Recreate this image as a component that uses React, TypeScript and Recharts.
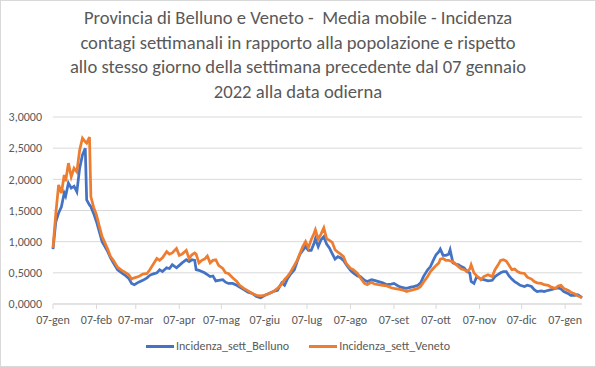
import { LineChart, Line, XAxis, YAxis, CartesianGrid } from 'recharts';

// giorni dal 07 gennaio 2022
const days = [
  0, 2, 4, 6, 8, 9, 11, 13, 15, 17, 19, 21, 23, 24, 26, 27, 29, 31, 33, 35,
  37, 39, 41, 43, 46, 49, 52, 54, 56, 58, 61, 64, 67, 69, 71, 74, 76, 78, 81, 83,
  85, 88, 90, 92, 95, 97, 99, 101, 102, 104, 106, 108, 110, 112, 114, 116, 118, 121, 123, 125,
  128, 131, 133, 136, 139, 142, 145, 148, 151, 154, 157, 160, 163, 165, 167, 169, 172, 174, 176, 178,
  180, 182, 184, 186, 187, 189, 191, 193, 195, 197, 199, 201, 203, 205, 207, 209, 212, 214, 217, 219,
  222, 224, 227, 229, 232, 235, 238, 241, 243, 246, 248, 250, 252, 255, 257, 260, 262, 264, 267, 269,
  271, 273, 275, 276, 278, 280, 282, 283, 285, 287, 289, 291, 293, 295, 297, 298, 300, 302, 305, 307,
  310, 313, 315, 317, 319, 321, 323, 325, 327, 329, 331, 333, 336, 338, 341, 343, 345, 348, 350, 353,
  355, 358, 360, 362, 364, 367, 369, 372, 374, 376, 377,
];

const belluno = [
  0.88, 1.32, 1.46, 1.56, 1.78, 1.73, 1.94, 1.86, 1.89, 1.8, 2.18, 2.39, 2.5, 1.67, 1.59, 1.56, 1.45, 1.32, 1.16, 1.0,
  0.92, 0.84, 0.74, 0.66, 0.55, 0.5, 0.45, 0.41, 0.33, 0.31, 0.35, 0.38, 0.42, 0.46, 0.48, 0.5, 0.55, 0.52, 0.58, 0.57,
  0.63, 0.58, 0.62, 0.66, 0.71, 0.68, 0.71, 0.7, 0.55, 0.54, 0.52, 0.5, 0.47, 0.44, 0.45, 0.37, 0.38, 0.39, 0.35, 0.33,
  0.33, 0.3, 0.27, 0.23, 0.19, 0.17, 0.12, 0.1, 0.14, 0.17, 0.2, 0.22, 0.34, 0.3, 0.4, 0.47, 0.55, 0.68, 0.8, 0.86,
  0.92, 0.86, 0.86, 0.97, 1.05, 0.92, 1.03, 1.08, 0.96, 0.9, 0.81, 0.72, 0.76, 0.74, 0.7, 0.63, 0.54, 0.5, 0.45, 0.44,
  0.38, 0.36, 0.39, 0.38, 0.36, 0.34, 0.31, 0.32, 0.33, 0.29, 0.27, 0.26, 0.25, 0.27, 0.28, 0.3, 0.34, 0.44, 0.55, 0.6,
  0.7, 0.79, 0.84, 0.88, 0.78, 0.78, 0.8, 0.87, 0.66, 0.64, 0.63, 0.6, 0.58, 0.52, 0.5, 0.36, 0.33, 0.44, 0.4, 0.39,
  0.37, 0.38, 0.44, 0.47, 0.5, 0.52, 0.52, 0.45, 0.4, 0.36, 0.33, 0.3, 0.28, 0.3, 0.28, 0.23, 0.2, 0.21, 0.2, 0.22,
  0.23, 0.25, 0.26, 0.24, 0.2, 0.17, 0.14, 0.14, 0.15, 0.12, 0.1,
];

const veneto = [
  0.9, 1.45, 1.91, 1.78, 2.07, 1.97, 2.26, 2.04, 2.18, 2.12, 2.47, 2.66, 2.6, 2.58, 2.68, 1.72, 1.55, 1.43, 1.25, 1.08,
  0.98, 0.88, 0.76, 0.7, 0.59, 0.54, 0.5, 0.47, 0.4, 0.42, 0.44, 0.48, 0.49, 0.55, 0.62, 0.73, 0.7, 0.74, 0.84, 0.8,
  0.82, 0.89, 0.78, 0.8, 0.86, 0.73, 0.79, 0.82, 0.8, 0.66, 0.7, 0.72, 0.77, 0.66, 0.7, 0.71, 0.62, 0.57, 0.5, 0.49,
  0.42, 0.36, 0.3, 0.25, 0.21, 0.17, 0.14, 0.13, 0.14, 0.17, 0.2, 0.25, 0.32, 0.39, 0.44, 0.5, 0.62, 0.7, 0.81, 0.92,
  1.0, 0.9, 1.03, 1.13, 1.19, 1.04, 1.12, 1.22, 1.05, 1.02, 0.99, 0.87, 0.83, 0.8, 0.76, 0.65, 0.57, 0.55, 0.49, 0.42,
  0.33, 0.31, 0.35, 0.32, 0.31, 0.3, 0.29, 0.26, 0.25, 0.24, 0.23, 0.22, 0.2, 0.22, 0.23, 0.25, 0.28, 0.35, 0.44, 0.52,
  0.57, 0.62, 0.66, 0.72, 0.73, 0.7, 0.7, 0.69, 0.68, 0.64, 0.6, 0.56, 0.55, 0.52, 0.56, 0.63, 0.5, 0.45, 0.39, 0.44,
  0.47, 0.44, 0.55, 0.62, 0.7, 0.71, 0.69, 0.62, 0.55, 0.56, 0.52, 0.5, 0.49, 0.43, 0.4, 0.36, 0.34, 0.33, 0.31, 0.3,
  0.27, 0.25, 0.29, 0.3, 0.25, 0.22, 0.19, 0.16, 0.13, 0.11, 0.1,
];

const monthTicks = [0, 31, 59, 90, 120, 151, 181, 212, 243, 273, 304, 334, 365];
const monthLabels = ['07-gen', '07-feb', '07-mar', '07-apr', '07-mag', '07-giu', '07-lug', '07-ago', '07-set', '07-ott', '07-nov', '07-dic', '07-gen'];
const yTicks = [0, 0.5, 1, 1.5, 2, 2.5, 3];

const titleLines = [
  'Provincia di Belluno e Veneto -  Media mobile - Incidenza',
  'contagi settimanali in rapporto alla popolazione e rispetto',
  'allo stesso giorno della settimana precedente dal 07 gennaio',
  '2022 alla data odierna',
];

const seriesNames = ['Incidenza_sett_Belluno', 'Incidenza_sett_Veneto'];
const seriesColors = ['#4472C4', '#ED7D31'];

const data = days.map((d, i) => ({ day: d, belluno: belluno[i], veneto: veneto[i] }));

const FONT = "Carlito, Lato, 'Liberation Sans', sans-serif";
const GRAY = '#595959';

export default function App() {
  return (
    <div style={{ position: 'absolute', left: 0, top: 0, width: 596, height: 367, background: '#fff' }}>
      <div
        style={{
          position: 'absolute', left: 0, top: 0, width: 594, height: 365, border: '1px solid #d9d9d9',
        }}
      />
      <div
        style={{
          position: 'absolute', left: 0, top: 6, width: 596, textAlign: 'center',
          fontFamily: FONT, fontSize: 18.6, lineHeight: '24.5px', color: GRAY,
        }}
      >
        {titleLines.map((t, i) => (
          <div key={i} style={{ whiteSpace: 'pre' }}>{t}</div>
        ))}
      </div>
      <div style={{ position: 'absolute', left: 0, top: 339, width: 596 }}>
        <div style={{ display: 'flex', justifyContent: 'center', gap: 20, fontFamily: FONT, fontSize: 12, color: GRAY }}>
          {seriesNames.map((name, i) => (
            <div key={name} style={{ display: 'flex', alignItems: 'center' }}>
              <div style={{ width: 28, height: 3, background: seriesColors[i], marginRight: 2 }} />
              <span>{name}</span>
            </div>
          ))}
        </div>
      </div>
      <LineChart width={596} height={367} data={data} margin={{ top: 117, right: 14, bottom: 31, left: 0 }}>
        <CartesianGrid vertical={false} stroke="#d9d9d9" />
        <XAxis
          dataKey="day"
          type="number"
          domain={[0, 377]}
          ticks={monthTicks}
          tickFormatter={(v: number) => monthLabels[monthTicks.indexOf(v)]}
          stroke="#d9d9d9"
          tickSize={5}
          tickMargin={6}
          height={32}
          tick={{ fill: GRAY, fontSize: 12, fontFamily: FONT }}
          interval={0}
        />
        <YAxis
          domain={[0, 3]}
          ticks={yTicks}
          width={53}
          axisLine={false}
          tickLine={false}
          tickMargin={5}
          tickFormatter={(v: number) => v.toFixed(4).replace('.', ',')}
          tick={{ fill: GRAY, fontSize: 12, fontFamily: FONT }}
        />
        <Line dataKey="belluno" name={seriesNames[0]} stroke={seriesColors[0]} strokeWidth={2.75} dot={false} isAnimationActive={false} />
        <Line dataKey="veneto" name={seriesNames[1]} stroke={seriesColors[1]} strokeWidth={2.75} dot={false} isAnimationActive={false} />
      </LineChart>
    </div>
  );
}
